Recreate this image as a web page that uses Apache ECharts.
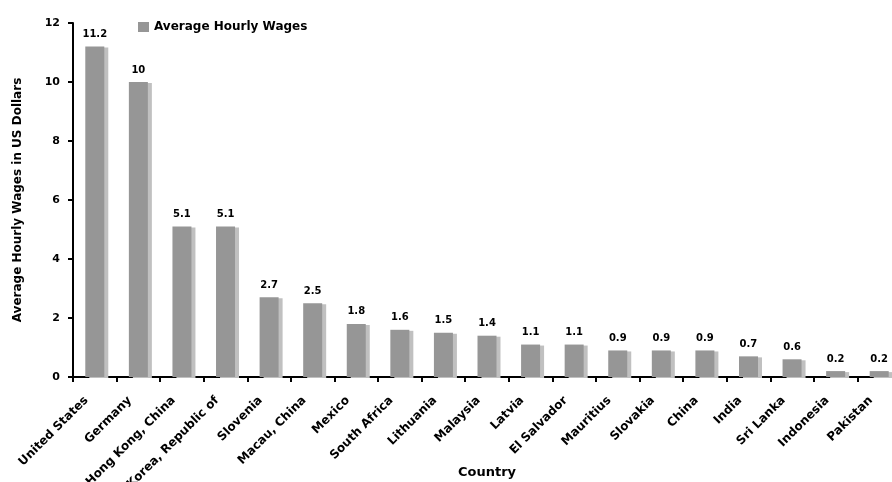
<!DOCTYPE html>
<html>
<head>
<meta charset="utf-8">
<script src="https://cdn.jsdelivr.net/npm/echarts@6/dist/echarts.min.js"></script>
<style>
  html, body { margin: 0; padding: 0; background: #ffffff; }
  #chart { width: 892px; height: 482px; }
</style>
</head>
<body>
<div id="chart"></div>
<script>
// Average hourly wages by country, in US dollars
const countries = [
  'United States', 'Germany', 'Hong Kong, China', 'Korea, Republic of', 'Slovenia',
  'Macau, China', 'Mexico', 'South Africa', 'Lithuania', 'Malaysia', 'Latvia',
  'El Salvador', 'Mauritius', 'Slovakia', 'China', 'India', 'Sri Lanka',
  'Indonesia', 'Pakistan'
];
const wages = [11.2, 10, 5.1, 5.1, 2.7, 2.5, 1.8, 1.6, 1.5, 1.4, 1.1, 1.1, 0.9, 0.9, 0.9, 0.7, 0.6, 0.2, 0.2];
const yTicks = [0, 2, 4, 6, 8, 10, 12];

const FONT = '"DejaVu Sans", Verdana, sans-serif';
const chart = echarts.init(document.getElementById('chart'), null, { renderer: 'canvas' });

chart.setOption({
  animation: false,
  backgroundColor: '#ffffff',
  textStyle: { fontFamily: FONT },
  legend: {
    left: 133,
    top: 16,
    itemWidth: 11,
    itemHeight: 10,
    itemGap: 4,
    textStyle: { fontFamily: FONT, fontSize: 12, fontWeight: 'bold', color: '#000' },
    data: [{ name: 'Average Hourly Wages', icon: 'rect' }]
  },
  grid: {
    left: 73, top: 23, width: 828, height: 354,
    containLabel: false,
    outerBoundsMode: 'none'
  },
  xAxis: {
    type: 'category',
    data: countries,
    name: 'Country',
    nameLocation: 'middle',
    nameGap: 89,
    nameMoveOverlap: false,
    nameTextStyle: { fontFamily: FONT, fontSize: 13, fontWeight: 'bold', color: '#000' },
    axisLine: { lineStyle: { color: '#000', width: 2 } },
    axisTick: { show: true, alignWithLabel: false, length: 5, lineStyle: { color: '#000', width: 2 } },
    axisLabel: {
      interval: 0,
      rotate: 45,
      margin: 13,
      padding: [0, 12, 0, 0],
      fontFamily: FONT,
      fontSize: 12,
      fontWeight: 'bold',
      color: '#000'
    }
  },
  yAxis: {
    type: 'value',
    min: yTicks[0],
    max: yTicks[yTicks.length - 1],
    interval: 2,
    name: 'Average Hourly Wages in US Dollars',
    nameLocation: 'middle',
    nameGap: 49,
    nameMoveOverlap: false,
    nameTextStyle: { fontFamily: FONT, fontSize: 12, fontWeight: 'bold', color: '#000' },
    axisLine: { show: true, lineStyle: { color: '#000', width: 2 } },
    axisTick: { show: true, length: 5, lineStyle: { color: '#000', width: 2 } },
    splitLine: { show: false },
    axisLabel: { margin: 13, fontFamily: FONT, fontSize: 11, fontWeight: 'bold', color: '#000' }
  },
  series: [{
    name: 'Average Hourly Wages',
    type: 'bar',
    data: wages,
    barWidth: 19,
    itemStyle: {
      color: '#969696',
      shadowColor: '#c0c0c0',
      shadowBlur: 0,
      shadowOffsetX: 4,
      shadowOffsetY: 1
    },
    label: {
      show: true,
      position: 'top',
      distance: 7,
      fontFamily: FONT,
      fontSize: 10,
      fontWeight: 'bold',
      color: '#000'
    }
  }]
});
</script>
</body>
</html>
